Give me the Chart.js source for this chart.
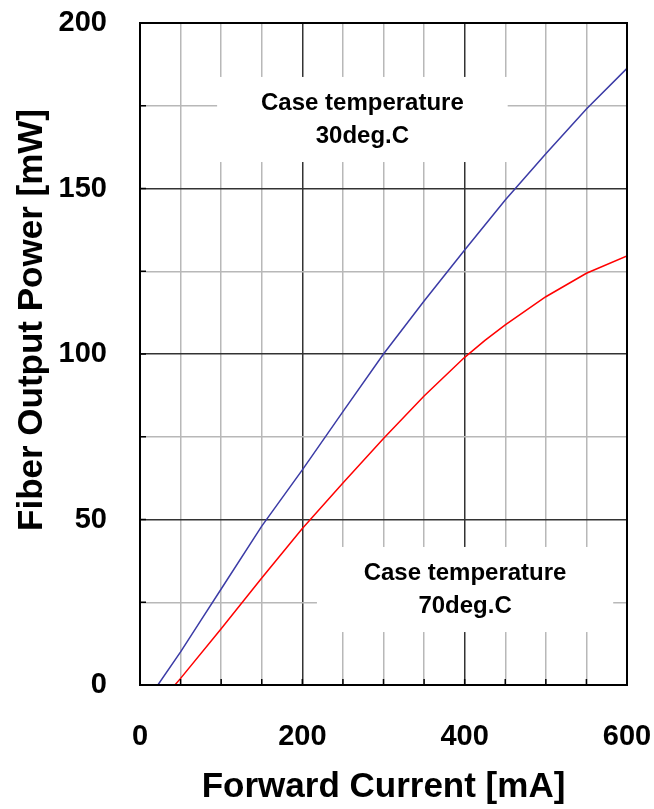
<!DOCTYPE html>
<html>
<head>
<meta charset="utf-8">
<script src="https://cdn.jsdelivr.net/npm/chart.js@4/dist/chart.umd.min.js"></script>
<style>
  html, body { margin: 0; padding: 0; background: #fff; }
  canvas { display: block; }
</style>
</head>
<body>
<canvas id="chart" width="654" height="809"></canvas>
<script>
'use strict';

// Forward current [mA] vs. fiber output power [mW]
const current30 = [0, 22, 50, 75, 100, 150, 200, 250, 300, 350, 400, 450, 500, 550, 600];
const power30 = [0, 0, 10, 19.5, 29, 48, 65, 82.6, 100, 116, 131.4, 146.5, 160.5, 174, 186.3];

const current70 = [0, 43, 50, 100, 150, 200, 250, 300, 350, 400, 425, 450, 500, 550, 600];
const power70 = [0, 0, 2, 17, 32.3, 47.3, 61, 74.5, 87.3, 99, 104.1, 108.8, 117.3, 124.4, 129.6];

// Annotation boxes, given in data units [xMin, xMax, yMin, yMax] and their lines
const notes = [
  { box: [95, 453, 158, 183.7], lines: ['Case temperature', '30deg.C'] },
  { box: [218, 583, 16, 41.7], lines: ['Case temperature', '70deg.C'] },
];

const FONT = '"Liberation Sans", Arial, Helvetica, sans-serif';

const toPoints = (xs, ys) => xs.map((x, i) => ({ x, y: ys[i] }));

const framePlugin = {
  id: 'frame',
  beforeDatasetsDraw(chart) {
    // white label boxes hide the grid behind them
    const { ctx, scales: { x, y } } = chart;
    ctx.save();
    ctx.fillStyle = '#fff';
    for (const note of notes) {
      const [x0, x1, y0, y1] = note.box;
      const left = x.getPixelForValue(x0);
      const right = x.getPixelForValue(x1);
      const top = y.getPixelForValue(y1);
      const bottom = y.getPixelForValue(y0);
      ctx.fillRect(left, top, right - left, bottom - top);
    }
    ctx.restore();
  },
  afterDatasetsDraw(chart) {
    const { ctx, chartArea: area, scales: { x, y } } = chart;
    ctx.save();

    // box texts
    ctx.fillStyle = '#000';
    ctx.font = `bold 24px ${FONT}`;
    ctx.textAlign = 'center';
    ctx.textBaseline = 'middle';
    for (const note of notes) {
      const [x0, x1, y0, y1] = note.box;
      const cx = (x.getPixelForValue(x0) + x.getPixelForValue(x1)) / 2;
      const cy = (y.getPixelForValue(y0) + y.getPixelForValue(y1)) / 2;
      note.lines.forEach((line, i) => {
        ctx.fillText(line, cx, cy + (i - (note.lines.length - 1) / 2) * 33);
      });
    }

    // short inward tick marks
    ctx.strokeStyle = '#000';
    ctx.lineWidth = 1.5;
    ctx.beginPath();
    for (const t of y.ticks) {
      const py = y.getPixelForValue(t.value);
      ctx.moveTo(area.left, py);
      ctx.lineTo(area.left + 6, py);
    }
    for (const t of x.ticks) {
      const px = x.getPixelForValue(t.value);
      ctx.moveTo(px, area.bottom);
      ctx.lineTo(px, area.bottom - 6);
    }
    ctx.stroke();

    // full plot frame
    ctx.lineWidth = 2;
    ctx.strokeRect(area.left, area.top, area.right - area.left, area.bottom - area.top);

    // y axis title sits a bit above the plot centre
    ctx.font = `bold 35px ${FONT}`;
    ctx.translate(32, 320);
    ctx.rotate(-Math.PI / 2);
    ctx.fillText('Fiber Output Power [mW]', 0, 0);
    ctx.restore();
  },
};

new Chart(document.getElementById('chart'), {
  type: 'line',
  data: {
    datasets: [
      {
        label: '30deg.C',
        data: toPoints(current30, power30),
        borderColor: '#3b3ba6',
        borderWidth: 1.5,
        pointRadius: 0,
        tension: 0,
      },
      {
        label: '70deg.C',
        data: toPoints(current70, power70),
        borderColor: '#ff0000',
        borderWidth: 1.5,
        pointRadius: 0,
        tension: 0,
      },
    ],
  },
  options: {
    responsive: false,
    animation: false,
    devicePixelRatio: 1,
    layout: { padding: { top: 23, right: 27, left: 0, bottom: 0 } },
    plugins: {
      legend: { display: false },
      tooltip: { enabled: false },
    },
    scales: {
      x: {
        type: 'linear',
        min: 0,
        max: 600,
        afterFit: scale => {
          scale.height = 124;
          scale.paddingLeft = 0;
          scale.paddingRight = 0;
        },
        ticks: {
          stepSize: 50,
          autoSkip: false,
          maxRotation: 0,
          padding: 35,
          color: '#000',
          font: { family: FONT, size: 29, weight: 'bold' },
          callback: v => (v % 200 === 0 ? String(v) : ''),
        },
        grid: {
          drawTicks: false,
          color: c => (c.tick && c.tick.value % 200 === 0 ? '#333' : '#b8b8b8'),
          lineWidth: 1.5,
        },
        border: { color: '#000', width: 2 },
        title: {
          display: true,
          text: 'Forward Current [mA]',
          color: '#000',
          font: { family: FONT, size: 35, weight: 'bold' },
          padding: { top: 0, bottom: 1 },
        },
      },
      y: {
        min: 0,
        max: 200,
        afterFit: scale => {
          scale.width = 140;
          scale.paddingTop = 0;
          scale.paddingBottom = 0;
        },
        ticks: {
          stepSize: 25,
          autoSkip: false,
          padding: 33,
          color: '#000',
          font: { family: FONT, size: 29, weight: 'bold' },
          callback: v => (v % 50 === 0 ? String(v) : ''),
        },
        grid: {
          drawTicks: false,
          color: c => (c.tick && c.tick.value % 50 === 0 ? '#333' : '#b8b8b8'),
          lineWidth: 1.5,
        },
        border: { color: '#000', width: 2 },
      },
    },
  },
  plugins: [framePlugin],
});
</script>
</body>
</html>
